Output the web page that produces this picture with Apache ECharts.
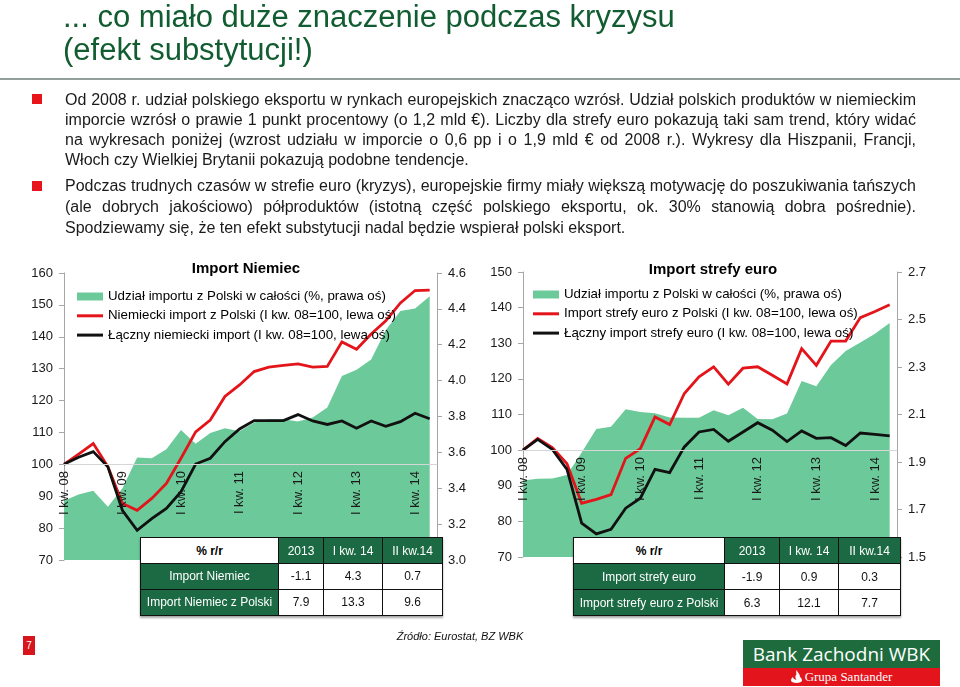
<!DOCTYPE html>
<html>
<head>
<meta charset="utf-8">
<script src="https://cdn.jsdelivr.net/npm/echarts@6/dist/echarts.min.js"></script>
<style>
  html, body { margin:0; padding:0; background:#fff; }
  body { width:960px; height:687px; position:relative; overflow:hidden; font-family:"Liberation Sans", Arial, sans-serif; }
  #chart { position:absolute; left:0; top:0; width:960px; height:687px; z-index:1; }
  .ov { position:absolute; z-index:2; }
  .title { left:63px; font-size:31px; color:#115c30; line-height:33px; white-space:nowrap; }
  .rule { left:0; top:78px; width:960px; height:2px; background:#93a099; }
  .bul { width:10px; height:10px; background:#e8141c; left:32px; }
  .ln { left:65px; width:851px; font-size:16px; color:#1a1a1a; line-height:20px; white-space:nowrap; }
  .ln.j { text-align:justify; text-align-last:justify; }
  table.t { border-collapse:collapse; font-family:"Liberation Sans", Arial, sans-serif; font-size:12px; box-shadow:0 2px 2px rgba(0,0,0,0.35); table-layout:fixed; }
  table.t td { border:1.5px solid #111; text-align:center; padding:0; overflow:hidden; white-space:nowrap; }
  td.dg { background:#1b6a43; color:#fff; }
  td.wh { background:#fff; color:#111; }
  td.hd { background:#fff; color:#000; font-weight:bold; }
  .src { left:360px; width:200px; top:630px; text-align:center; font-size:11px; font-style:italic; color:#111; }
  .pg { left:23px; top:636px; width:12px; height:19px; background:#d8141d; color:#fff; font-size:10px; text-align:center; line-height:19px; }
  .logoG { left:743px; top:640px; width:197px; height:28px; background:#1e6b3e; color:#fff; font-family:"Open Sans","Liberation Sans",sans-serif; font-size:19px; text-align:center; line-height:28px; }
  .logoR { left:743px; top:668px; width:197px; height:18px; background:#e3141c; color:#fff; font-family:"Liberation Serif","DejaVu Serif",serif; font-size:13px; text-align:center; line-height:18px; }
</style>
</head>
<body>
<div class="ov title" style="top:0px">... co miało duże znaczenie podczas kryzysu</div>
<div class="ov title" style="top:33px">(efekt substytucji!)</div>
<div class="ov rule"></div>

<div class="ov bul" style="top:94px"></div>
<div class="ov ln j" style="top:90px">Od 2008 r. udział polskiego eksportu w rynkach europejskich znacząco wzrósł. Udział polskich produktów w niemieckim</div>
<div class="ov ln j" style="top:110px">imporcie wzrósł o prawie 1 punkt procentowy (o 1,2 mld €). Liczby dla strefy euro pokazują taki sam trend, który widać</div>
<div class="ov ln j" style="top:130px">na wykresach poniżej (wzrost udziału w imporcie o 0,6 pp i o 1,9 mld € od 2008 r.). Wykresy dla Hiszpanii, Francji,</div>
<div class="ov ln" style="top:150px">Włoch czy Wielkiej Brytanii pokazują podobne tendencje.</div>
<div class="ov bul" style="top:181px"></div>
<div class="ov ln j" style="top:176px">Podczas trudnych czasów w strefie euro (kryzys), europejskie firmy miały większą motywację do poszukiwania tańszych</div>
<div class="ov ln j" style="top:197px">(ale dobrych jakościowo) półproduktów (istotną część polskiego eksportu, ok. 30% stanowią dobra pośrednie).</div>
<div class="ov ln" style="top:218px">Spodziewamy się, że ten efekt substytucji nadal będzie wspierał polski eksport.</div>

<div id="chart"></div>

<div id="tblL" class="ov" style="left:140px; top:537px;"></div>
<div id="tblR" class="ov" style="left:573px; top:537px;"></div>

<div class="ov pg">7</div>
<div class="ov src">Źródło: Eurostat, BZ WBK</div>
<div class="ov logoG">Bank Zachodni WBK</div>
<div class="ov logoR"><svg width="11" height="13" viewBox="0 0 11 13" style="vertical-align:-2px;margin-right:3px"><path d="M5.5 0 C7 3 9 4 9 7 C10.5 8 11 9.5 11 10.5 C11 12 8.5 13 5.5 13 C2.5 13 0 12 0 10.5 C0 9.5 0.5 8 2 7 C2 9 4 9.5 5.5 10 C4 8 4 6 5.5 4 C5 2.5 5 1.2 5.5 0 Z" fill="#fff"/></svg>Grupa Santander</div>

<script>
// ---------- data ----------
const quarters = ['I kw. 08','II kw. 08','III kw. 08','IV kw. 08',
  'I kw. 09','II kw. 09','III kw. 09','IV kw. 09',
  'I kw. 10','II kw. 10','III kw. 10','IV kw. 10',
  'I kw. 11','II kw. 11','III kw. 11','IV kw. 11',
  'I kw. 12','II kw. 12','III kw. 12','IV kw. 12',
  'I kw. 13','II kw. 13','III kw. 13','IV kw. 13',
  'I kw. 14','II kw. 14'];

// Germany
const deShare = [3.33, 3.365, 3.386, 3.297, 3.40, 3.572, 3.567, 3.618, 3.725, 3.648, 3.708, 3.734, 3.718,
  3.766, 3.785, 3.785, 3.772, 3.795, 3.85, 4.026, 4.06, 4.118, 4.282, 4.388, 4.402, 4.47];
const deFromPL = [100, 103.2, 106.5, 99.3, 87.7, 85.6, 89.3, 94.0, 101.9, 110.2, 113.9, 121.3, 124.9,
  129.1, 130.5, 131.0, 131.5, 130.5, 130.7, 138.4, 136.1, 140.9, 145.0, 150.6, 154.5, 154.6];
const deTotal = [100, 102.2, 104.0, 99.2, 85.5, 79.3, 83.0, 86.2, 91.4, 100.1, 101.9, 107.1, 111.1,
  113.7, 113.7, 113.7, 115.6, 113.6, 112.5, 113.6, 111.3, 113.6, 111.9, 113.4, 116.0, 114.3];

// Euro area
const ezShare = [1.822, 1.830, 1.831, 1.845, 1.94, 2.039, 2.048, 2.122, 2.111, 2.105, 2.087, 2.086, 2.086,
  2.118, 2.097, 2.128, 2.081, 2.08, 2.104, 2.241, 2.219, 2.308, 2.367, 2.403, 2.44, 2.485];
const ezFromPL = [100, 103.3, 100.7, 96.2, 85.1, 86.2, 87.5, 97.7, 100.4, 109.3, 107.2, 115.9, 120.6,
  123.4, 118.5, 123.0, 123.4, 121.0, 118.6, 128.5, 123.8, 130.6, 130.6, 137.2, 138.9, 140.8];
const ezTotal = [100, 103.0, 100.2, 94.6, 79.5, 76.5, 77.8, 83.7, 86.5, 94.6, 93.7, 100.9, 105.1,
  105.8, 102.5, 105.1, 107.7, 105.6, 102.4, 105.4, 103.3, 103.5, 101.3, 104.8, 104.4, 104.0];

// tick labels
const deLeftTicks = [70, 160, 10];
const deRightTicks = [3.0, 4.6, 0.2];
const ezLeftTicks = [70, 150, 10];
const ezRightTicks = [1.5, 2.7, 0.2];

// names
const shareName = 'Udział importu z Polski w całości (%, prawa oś)';
const deFromPLName = 'Niemiecki import z Polski (I kw. 08=100, lewa oś)';
const deTotalName = 'Łączny niemiecki import (I kw. 08=100, lewa oś)';
const ezFromPLName = 'Import strefy euro z Polski (I kw. 08=100, lewa oś)';
const ezTotalName = 'Łączny import strefy euro (I kw. 08=100, lewa oś)';

// tables
const tableHeader = ['% r/r', '2013', 'I kw. 14', 'II kw.14'];
const deTableRows = [['Import Niemiec', '-1.1', '4.3', '0.7'], ['Import Niemiec z Polski', '7.9', '13.3', '9.6']];
const ezTableRows = [['Import strefy euro', '-1.9', '0.9', '0.3'], ['Import strefy euro z Polski', '6.3', '12.1', '7.7']];

// ---------- tables ----------
function buildTable(el, rows, colW, rowH) {
  let h = '<table class="t"><colgroup>' + colW.map(w => '<col style="width:' + w + 'px">').join('') + '</colgroup>';
  h += '<tr style="height:' + rowH[0] + 'px">' + tableHeader.map((c, i) => '<td class="' + (i === 0 ? 'hd' : 'dg') + '">' + c + '</td>').join('') + '</tr>';
  rows.forEach((r, ri) => {
    h += '<tr style="height:' + rowH[ri + 1] + 'px">' + r.map((c, i) => '<td class="' + (i === 0 ? 'dg' : 'wh') + '">' + c + '</td>').join('') + '</tr>';
  });
  h += '</table>';
  document.getElementById(el).innerHTML = h;
}
buildTable('tblL', deTableRows, [138, 45, 59, 60], [26, 25.5, 26.5]);
buildTable('tblR', ezTableRows, [151, 55, 59, 62], [26, 26, 26]);

// ---------- chart ----------
const green = '#6cc999', red = '#e3151b', black = '#111111', axisGray = '#a6a6a6';
const FF = '"Liberation Sans", Arial, sans-serif';
const lineIcon = 'path://M0,0H26V3H0Z';
const chart = echarts.init(document.getElementById('chart'), null, { renderer: 'canvas' });

function xAx(gi, offset) {
  return {
    type: 'value', gridIndex: gi, min: 0, max: 25.5, interval: 4, offset: offset, z: 10,
    axisLine: { show: true, lineStyle: { color: '#d6d6d6', width: 1 } },
    axisTick: { show: false }, splitLine: { show: false },
    axisLabel: {
      rotate: 90, margin: 7, fontSize: 13, fontFamily: FF, color: '#1a1a1a', showMaxLabel: false,
      formatter: v => (Number.isInteger(v) && v % 4 === 0 && quarters[v]) ? quarters[v] : ''
    }
  };
}
function yAx(gi, pos, t, dec) {
  return {
    type: 'value', gridIndex: gi, position: pos, min: t[0], max: t[1], interval: t[2],
    axisLine: { show: true, lineStyle: { color: axisGray, width: 1 } },
    axisTick: { show: true, length: 5, lineStyle: { color: axisGray } },
    splitLine: { show: false },
    axisLabel: { margin: 11, fontSize: 13, fontFamily: FF, color: '#1a1a1a', formatter: v => dec ? v.toFixed(1) : String(v) }
  };
}
const toXY = arr => arr.map((v, i) => [i, v]);
function areaS(name, xi, yi, d) {
  return { name, type: 'line', xAxisIndex: xi, yAxisIndex: yi, data: toXY(d), symbol: 'none', silent: true,
    lineStyle: { width: 0, opacity: 0 }, itemStyle: { color: green }, areaStyle: { color: green, opacity: 1, origin: 'start' }, z: 1 };
}
function lineS(name, xi, yi, d, c) {
  return { name, type: 'line', xAxisIndex: xi, yAxisIndex: yi, data: toXY(d), symbol: 'none', silent: true,
    lineStyle: { width: 2.8, color: c, join: 'miter' }, itemStyle: { color: c }, z: 3 };
}
function legendFor(left, top, names) {
  return { left, top, padding: 0, orient: 'vertical', itemWidth: 26, itemHeight: 8, itemGap: 6.3, selectedMode: false,
    textStyle: { fontSize: 13.3, fontFamily: FF, color: '#000' },
    data: [{ name: names[0], icon: 'rect' }, { name: names[1], icon: lineIcon }, { name: names[2], icon: lineIcon }] };
}

chart.setOption({
  animation: false,
  title: [
    { text: 'Import Niemiec', left: 241, top: 256, textAlign: 'center', textStyle: { fontSize: 15, fontWeight: 'bold', fontFamily: FF, color: '#000' } },
    { text: 'Import strefy euro', left: 708, top: 257, textAlign: 'center', textStyle: { fontSize: 15, fontWeight: 'bold', fontFamily: FF, color: '#000' } }
  ],
  legend: [
    legendFor(77, 290, [shareName, deFromPLName, deTotalName]),
    legendFor(533, 288, [shareName, ezFromPLName, ezTotalName])
  ],
  grid: [
    { left: 64, top: 273, width: 373, height: 287 },
    { left: 523, top: 272, width: 374, height: 285 }
  ],
  xAxis: [xAx(0, -96), xAx(1, -107)],
  yAxis: [
    yAx(0, 'left', deLeftTicks, false), yAx(0, 'right', deRightTicks, true),
    yAx(1, 'left', ezLeftTicks, false), yAx(1, 'right', ezRightTicks, true)
  ],
  series: [
    areaS(shareName, 0, 1, deShare),
    lineS(deFromPLName, 0, 0, deFromPL, red),
    lineS(deTotalName, 0, 0, deTotal, black),
    areaS(shareName, 1, 3, ezShare),
    lineS(ezFromPLName, 1, 2, ezFromPL, red),
    lineS(ezTotalName, 1, 2, ezTotal, black)
  ]
});
</script>
</body>
</html>
